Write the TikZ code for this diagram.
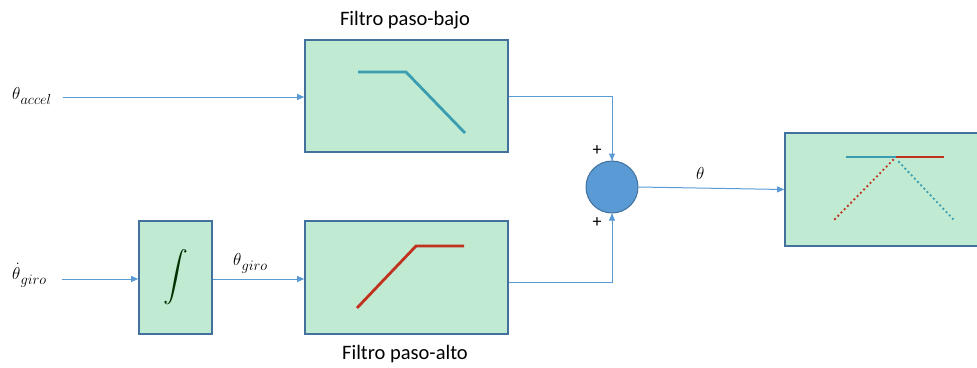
\documentclass[tikz,border=0pt]{standalone}
\usepackage{fontspec}
\setmainfont{Carlito}
\usepackage{amsmath}
\usetikzlibrary{arrows.meta}
\definecolor{boxfill}{HTML}{C0EAD2}
\definecolor{boxline}{HTML}{41719C}
\definecolor{arrc}{HTML}{5B9BD5}
\definecolor{tealc}{HTML}{3A9DB0}
\definecolor{redc}{HTML}{C0311E}
\newcommand{\sbx}[1]{\raisebox{-5.5pt}{\fontsize{15.5}{15.5}\selectfont$#1$}}
\tikzset{
  blockbox/.style={draw=boxline, fill=boxfill, line width=1.6pt, rectangle, inner sep=0pt},
  arr/.style={draw=arrc, line width=1pt, -{Triangle[length=7pt,width=6pt]}},
  conn/.style={draw=arrc, line width=1pt},
  lbl/.style={font=\fontsize{20.5}{24}\selectfont, inner sep=1pt},
  mlbl/.style={font=\fontsize{17}{20}\selectfont, inner sep=0pt},
  curve/.style={line width=2.8pt, line join=miter},
  dotc/.style={line width=2.6pt, line cap=round, dash pattern=on 0pt off 4.6pt},
}
\begin{document}
\begin{tikzpicture}[x=1pt,y=-1pt]
\clip (0,0) rectangle (977,367);
\useasboundingbox (0,0) rectangle (977,367);
% blocks
\node[blockbox, minimum width=203pt, minimum height=112pt] (lp) at (406.5,96) {};
\node[blockbox, minimum width=203pt, minimum height=113pt] (hp) at (406.5,277.5) {};
\node[blockbox, minimum width=73pt, minimum height=113pt] (int) at (175.5,277.5) {};
\node[blockbox, minimum width=205pt, minimum height=113pt] (out) at (887.5,189.5) {};
\node[circle, draw=boxline, fill=arrc, line width=1pt, minimum size=52pt, inner sep=0pt] (sum) at (612,187) {};
% labels
\node[lbl] (lpl) at (405,20) {Filtro paso-bajo};
\node[lbl] (hpl) at (405,354) {Filtro paso-alto};
\node[mlbl, anchor=base west] (ain) at (12,99) {$\theta$\sbx{accel}};
\node[mlbl, anchor=base west] (gin) at (12,279) {$\dot{\theta}$\sbx{giro}};
\node[mlbl, anchor=base west] (gl) at (233,265) {$\theta$\sbx{giro}};
\node[mlbl, anchor=base west] (tl) at (696,179) {$\theta$};
\node[font=\fontsize{18}{18}\selectfont, inner sep=0pt] (p1) at (597,151) {+};
\node[font=\fontsize{18}{18}\selectfont, inner sep=0pt] (p2) at (597,223) {+};
% integral
\node[inner sep=0pt, text=black!80!green] (intsym) at (int.center) {\fontsize{26}{26}\selectfont$\displaystyle\int$};
% connectors
\coordinate (a0) at (63,97);
\coordinate (g0) at (62,279);
\draw[arr] (a0) -- (lp.west |- a0);
\draw[arr] (g0) -- (int.west |- g0);
\draw[arr] (int.east |- g0) -- (hp.west |- g0);
\draw[conn] (lp.east) -| (sum.north);
\draw[arr] (lp.east -| sum.north) -- (sum.north);
\draw[conn] ([yshift=-4.5pt]hp.east) -| (sum.south);
\draw[arr] ([yshift=-4.5pt]hp.east -| sum.south) -- (sum.south);
\draw[arr] (sum.east) -- (out.west);
% filter curves
\draw[curve, tealc] (358,72) -- (406,72) -- (465,133);
\draw[curve, redc] (357,308) -- (416,246) -- (464,246);
\draw[curve, tealc] (846,157) -- (896,157);
\draw[curve, redc] (896,157) -- (944,157);
\draw[dotc, redc] (835,219) -- (894,159);
\draw[dotc, tealc] (899,162) -- (953,219);
\end{tikzpicture}
\end{document}
